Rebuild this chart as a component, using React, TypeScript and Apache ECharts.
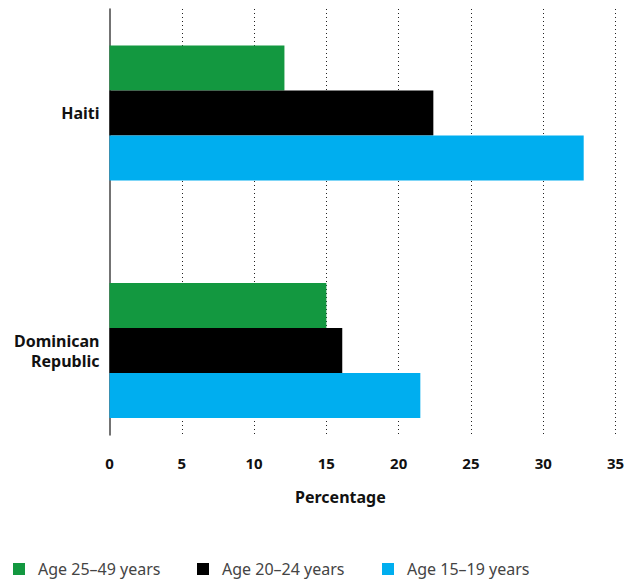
import React, { useEffect, useRef } from "react";
import * as echarts from "echarts";

const categories = ["Haiti", "Dominican Republic"];
const seriesNames = ["Age 25–49 years", "Age 20–24 years", "Age 15–19 years"];
const age25to49 = [12.1, 15.0];
const age20to24 = [22.4, 16.1];
const age15to19 = [32.8, 21.5];
const seriesColors = ["#139840", "#000000", "#00aeef"];
const axisTitle = "Percentage";

const FONT = "'Noto Sans', 'DejaVu Sans', sans-serif";

export default function App() {
  const ref = useRef<HTMLDivElement>(null);
  useEffect(() => {
    if (!ref.current) return;
    const chart = echarts.init(ref.current, null, { renderer: "svg" });
    const values = [age25to49, age20to24, age15to19];
    const gridLeft = 109.5;
    const gridRight = 20.5;
    chart.setOption({
      animation: false,
      textStyle: { fontFamily: FONT },
      grid: [
        { left: gridLeft, right: gridRight, top: 113, height: 237.5, containLabel: false },
        { left: gridLeft, right: gridRight, top: 9, height: 426, containLabel: false },
      ],
      xAxis: [
        { type: "value", gridIndex: 0, min: 0, max: 35, interval: 5, show: false },
        {
          type: "value",
          gridIndex: 1,
          min: 0,
          max: 35,
          interval: 5,
          axisLine: { show: false },
          axisTick: { show: false },
          axisLabel: { fontSize: 15, fontWeight: "bold", color: "#111", margin: 20, fontFamily: FONT },
          splitLine: {
            show: true,
            showMinLine: false,
            lineStyle: { type: [1, 3], color: "#222", width: 1 },
          },
        },
      ],
      yAxis: [
        {
          type: "category",
          gridIndex: 0,
          data: categories,
          inverse: true,
          boundaryGap: false,
          axisLine: { show: false },
          axisTick: { show: false },
          splitLine: { show: false },
          axisLabel: {
            fontSize: 16,
            fontWeight: "bold",
            color: "#111",
            margin: 10,
            lineHeight: 20,
            fontFamily: FONT,
            formatter: (v: string) => v.replace(" ", "\n"),
          },
        },
        {
          type: "category",
          gridIndex: 1,
          data: categories,
          inverse: true,
          axisLine: { show: true, lineStyle: { color: "#444", width: 1.5 } },
          axisTick: { show: false },
          axisLabel: { show: false },
          splitLine: { show: false },
        },
      ],
      legend: seriesNames.map((n, i) => ({
        data: [n],
        left: [13, 197, 382][i],
        top: 561,
        padding: 0,
        itemWidth: 12,
        itemHeight: 12,
        icon: "rect",
        textStyle: { fontSize: 16, color: "#444", fontFamily: FONT, padding: [0, 0, 0, 8] },
      })),
      graphic: [
        {
          type: "text",
          left: 341 - 46,
          top: 489,
          style: { text: axisTitle, font: `bold 16px ${FONT}`, fill: "#111" },
        },
      ],
      series: seriesNames.map((n, i) => ({
        type: "bar",
        name: n,
        xAxisIndex: 0,
        yAxisIndex: 0,
        data: values[i],
        barWidth: 45,
        barGap: "0%",
        itemStyle: { color: seriesColors[i] },
        z: 3,
      })),
    });
    return () => chart.dispose();
  }, []);
  return <div ref={ref} style={{ width: 636, height: 579, position: "absolute", left: 0, top: 0 }} />;
}
